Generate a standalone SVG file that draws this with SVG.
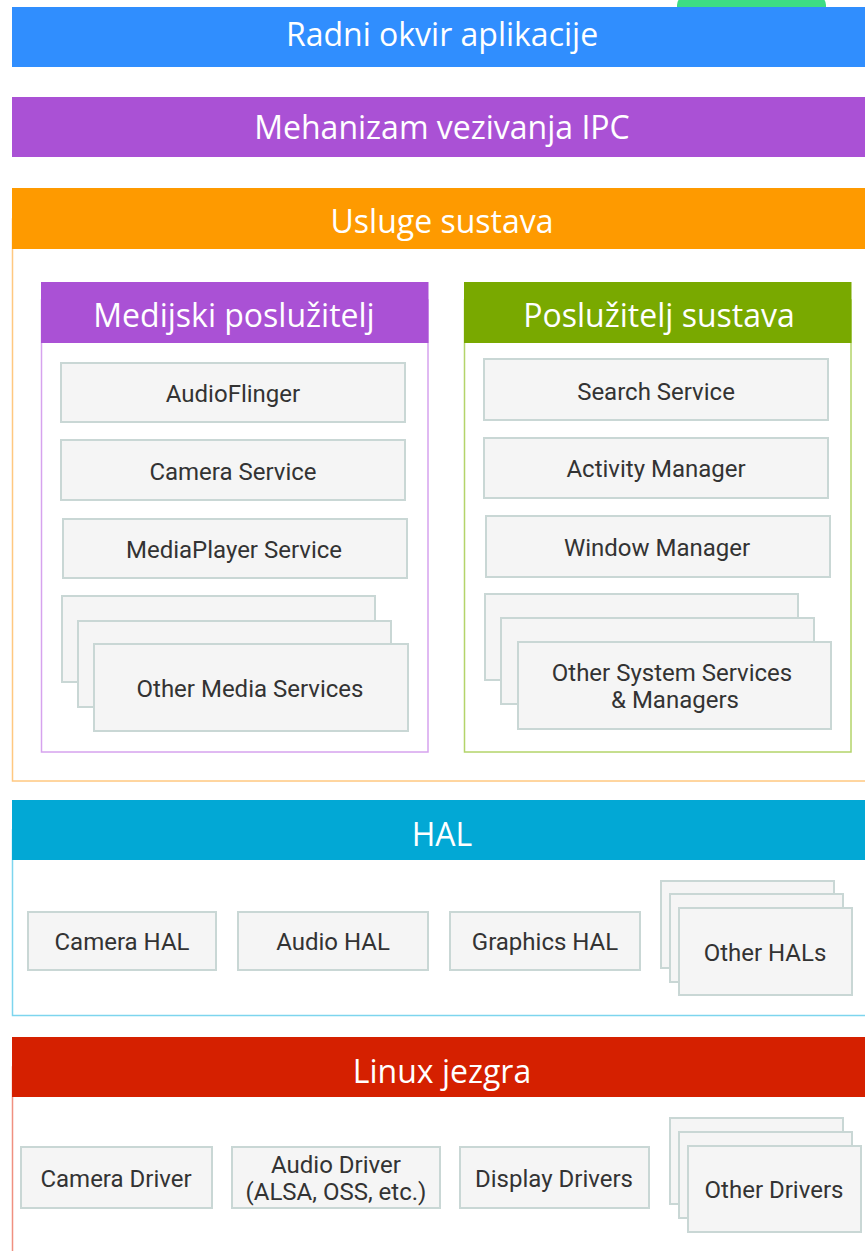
<svg xmlns="http://www.w3.org/2000/svg" width="865" height="1251" viewBox="0 0 865 1251">
<style>
.hdr{font-family:"Open Sans","Liberation Sans",sans-serif;font-size:32px;fill:#ffffff;text-anchor:middle}
.sub{font-family:"Open Sans","Liberation Sans",sans-serif;font-size:32px;fill:#ffffff;text-anchor:middle}
.box{fill:#f5f5f5;stroke:#c9d7d5;stroke-width:2}
.lbl{font-family:Roboto,"Liberation Sans",sans-serif;font-size:24px;fill:#333333;text-anchor:middle}
</style>
<rect width="865" height="1251" fill="#ffffff"/>
<g id="top-tab"><rect x="677" y="-4" width="149" height="30" rx="9" fill="#3ddc84"/></g>
<g id="app-framework">
<rect x="12" y="7" width="860" height="60" fill="#308efe"/>
<text class="hdr" x="442" y="46">Radni okvir aplikacije</text>
</g>
<g id="ipc">
<rect x="12" y="97" width="860" height="60" fill="#aa51d5"/>
<text class="hdr" x="442" y="139">Mehanizam vezivanja IPC</text>
</g>
<g id="system-services">
<rect x="12.5" y="219" width="860" height="562" fill="#ffffff" stroke="#ffc880" stroke-width="1.5"/>
<rect x="12" y="188" width="860" height="61" fill="#fe9a00"/>
<text class="hdr" x="442" y="233">Usluge sustava</text>
</g>
<g id="media-server">
<rect x="41.5" y="300" width="386.5" height="452" fill="#ffffff" stroke="#d6a3ee" stroke-width="1.5"/>
<rect x="41" y="282" width="387.5" height="61" fill="#aa51d5"/>
<text class="sub" x="234" y="327">Medijski poslužitelj</text>
</g>
<g id="system-server">
<rect x="464.5" y="300" width="386.5" height="452" fill="#ffffff" stroke="#b3d46a" stroke-width="1.5"/>
<rect x="464" y="282" width="387.5" height="61" fill="#79a900"/>
<text class="sub" x="659" y="327">Poslužitelj sustava</text>
</g>
<g id="audioflinger"><rect class="box" x="61" y="363" width="344" height="59"/><text class="lbl" x="233" y="401.5">AudioFlinger</text></g>
<g id="camera-service"><rect class="box" x="61" y="440" width="344" height="60"/><text class="lbl" x="233" y="480">Camera Service</text></g>
<g id="mediaplayer-service"><rect class="box" x="63" y="519" width="344" height="59"/><text class="lbl" x="234" y="557.5">MediaPlayer Service</text></g>
<g id="other-media-services">
<rect class="box" x="62" y="596" width="313" height="86"/>
<rect class="box" x="78" y="621" width="313" height="86"/>
<rect class="box" x="94" y="644" width="314" height="87"/>
<text class="lbl" x="250" y="697">Other Media Services</text>
</g>
<g id="search-service"><rect class="box" x="484" y="359" width="344" height="61"/><text class="lbl" x="656" y="399.5">Search Service</text></g>
<g id="activity-manager"><rect class="box" x="484" y="438" width="344" height="60"/><text class="lbl" x="656" y="476.5">Activity Manager</text></g>
<g id="window-manager"><rect class="box" x="486" y="516" width="344" height="61"/><text class="lbl" x="657" y="555.5">Window Manager</text></g>
<g id="other-system-services">
<rect class="box" x="485" y="594" width="313" height="86"/>
<rect class="box" x="501" y="618" width="313" height="86"/>
<rect class="box" x="518" y="642" width="313" height="87"/>
<text class="lbl" x="672" y="681">Other System Services</text>
<text class="lbl" x="675" y="708">&amp; Managers</text>
</g>
<g id="hal">
<rect x="12.5" y="830" width="860" height="185.5" fill="#ffffff" stroke="#7dd5ee" stroke-width="1.5"/>
<rect x="12" y="800" width="860" height="60" fill="#02a8d5"/>
<text class="hdr" x="442" y="846">HAL</text>
</g>
<g id="camera-hal"><rect class="box" x="28" y="912" width="188" height="58"/><text class="lbl" x="122" y="950">Camera HAL</text></g>
<g id="audio-hal"><rect class="box" x="238" y="912" width="190" height="58"/><text class="lbl" x="333" y="950">Audio HAL</text></g>
<g id="graphics-hal"><rect class="box" x="450" y="912" width="190" height="58"/><text class="lbl" x="545" y="950">Graphics HAL</text></g>
<g id="other-hals">
<rect class="box" x="661" y="881" width="173" height="87"/>
<rect class="box" x="670" y="894" width="173" height="88"/>
<rect class="box" x="679" y="908" width="173" height="87"/>
<text class="lbl" x="765" y="961">Other HALs</text>
</g>
<g id="linux-kernel">
<rect x="12.5" y="1067" width="860" height="200" fill="#ffffff" stroke="#f09080" stroke-width="1.5"/>
<rect x="12" y="1037" width="860" height="60" fill="#d52000"/>
<text class="hdr" x="442" y="1083">Linux jezgra</text>
</g>
<g id="camera-driver"><rect class="box" x="21" y="1147" width="191" height="61"/><text class="lbl" x="116" y="1187">Camera Driver</text></g>
<g id="audio-driver"><rect class="box" x="232" y="1147" width="208" height="61"/><text class="lbl" x="336" y="1173">Audio Driver</text><text class="lbl" x="336" y="1200">(ALSA, OSS, etc.)</text></g>
<g id="display-drivers"><rect class="box" x="460" y="1147" width="189" height="61"/><text class="lbl" x="554" y="1187">Display Drivers</text></g>
<g id="other-drivers">
<rect class="box" x="670" y="1118" width="173" height="86"/>
<rect class="box" x="679" y="1132" width="173" height="86"/>
<rect class="box" x="688" y="1146" width="173" height="86"/>
<text class="lbl" x="774" y="1198">Other Drivers</text>
</g>
<g id="connectors"></g>
</svg>
